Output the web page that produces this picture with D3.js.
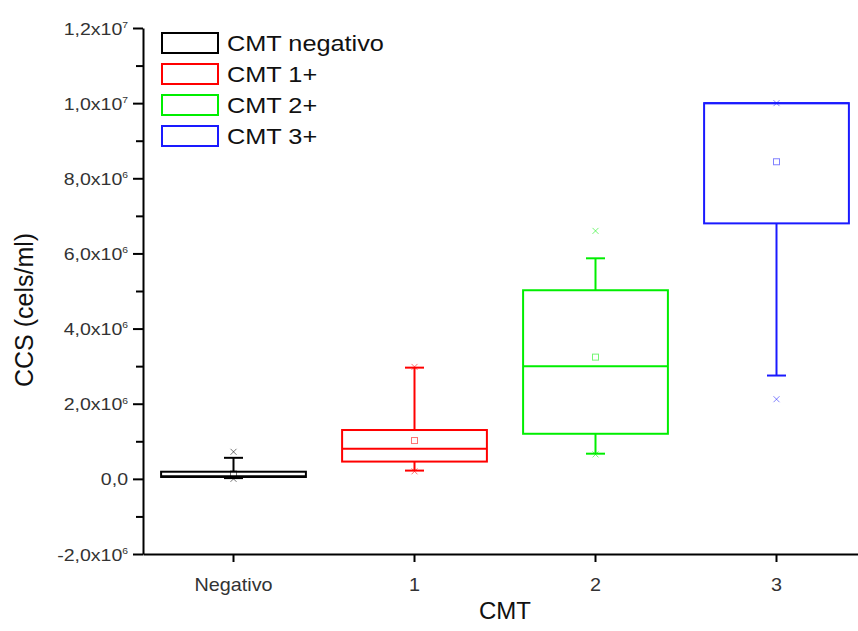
<!DOCTYPE html>
<html>
<head>
<meta charset="utf-8">
<script src="https://cdn.jsdelivr.net/npm/d3@7"></script>
<style>
body { margin: 0; background: #fff; }
text { font-family: "Liberation Sans", Arial, sans-serif; }
</style>
</head>
<body>
<div id="chart"></div>
<script>
// categories and series
const categories = ["Negativo", "1", "2", "3"];
const seriesNames = ["CMT negativo", "CMT 1+", "CMT 2+", "CMT 3+"];
const seriesColors = ["#000000", "#ff0000", "#00ee00", "#1a1aff"];

// box statistics (cels/ml)
const q1 = [0.05e6, 0.46e6, 1.20e6, 6.80e6];
const median = [0.07e6, 0.80e6, 3.00e6, 1.00e7];
const q3 = [0.19e6, 1.30e6, 5.02e6, 1.00e7];
const whiskerLow = [0.02e6, 0.22e6, 0.67e6, 2.75e6];
const whiskerHigh = [0.56e6, 2.96e6, 5.87e6, 1.00e7];
const mean = [0.13e6, 1.02e6, 3.24e6, 8.44e6];
const minVal = [0.0, 0.20e6, 0.65e6, 2.12e6];
const maxVal = [0.72e6, 2.98e6, 6.60e6, 1.00e7];

// y axis ticks
const yTicks = [-2e6, 0, 2e6, 4e6, 6e6, 8e6, 1e7, 1.2e7];
const yTickMantissa = ["-2,0", "0,0", "2,0", "4,0", "6,0", "8,0", "1,0", "1,2"];
const yTickExp = ["6", "", "6", "6", "6", "6", "7", "7"];
const yMinorTicks = [-1e6, 1e6, 3e6, 5e6, 7e6, 9e6, 1.1e7];

const width = 858, height = 631;
const margin = { left: 143, top: 28, bottom: 554 };

const svg = d3.select('#chart').append('svg')
    .attr('width', width)
    .attr('height', height);

const x = d3.scaleBand()
    .domain(categories)
    .range([margin.left, margin.left + 4 * 181])
    .paddingInner(0.2)
    .paddingOuter(0.1);

const y = d3.scaleLinear()
    .domain([-2e6, 1.2e7])
    .range([margin.bottom, margin.top]);

// y axis (minor then major)
svg.append('g')
    .attr('transform', `translate(${margin.left},0)`)
    .call(d3.axisLeft(y).tickValues(yMinorTicks).tickSize(7).tickFormat(''))
    .call(g => g.select('.domain').remove());

const yAxis = svg.append('g')
    .attr('transform', `translate(${margin.left},0)`)
    .call(d3.axisLeft(y).tickValues(yTicks).tickSize(10).tickSizeOuter(0).tickFormat(''));

yAxis.selectAll('.tick text').remove();
const yLab = yAxis.selectAll('.tick').append('text')
    .attr('text-anchor', 'end')
    .attr('transform', 'scale(1.15,1)')
    .attr('x', -15 / 1.15)
    .attr('dy', '0.36em')
    .attr('fill', '#333')
    .style('font-size', '17px');
yLab.append('tspan').text((d, i) => yTickMantissa[i] + (yTickExp[i] ? 'x10' : ''));
yLab.append('tspan')
    .attr('dy', '-0.75em')
    .style('font-size', '9px')
    .text((d, i) => yTickExp[i]);

// x axis
const xAxis = svg.append('g')
    .attr('transform', `translate(0,${margin.bottom})`)
    .call(d3.axisBottom(x).tickSize(8).tickSizeOuter(0));

xAxis.selectAll('.tick text')
    .attr('y', 37)
    .attr('dy', 0)
    .attr('transform', 'scale(1.1,1)')
    .attr('fill', '#333')
    .style('font-size', '18px');

svg.selectAll('.domain, .tick line')
    .attr('stroke', '#000')
    .attr('stroke-width', 2);

// boxes
const bw = x.bandwidth();
const capW = 19;
const boxes = svg.append('g').selectAll('g')
    .data(categories)
    .enter().append('g')
    .attr('stroke', (d, i) => seriesColors[i])
    .attr('fill', 'none');

boxes.each(function (cat, i) {
    const g = d3.select(this);
    const cx = x(cat) + bw / 2;

    if (whiskerHigh[i] > q3[i]) {
        g.append('line').attr('x1', cx).attr('x2', cx)
            .attr('y1', y(q3[i])).attr('y2', y(whiskerHigh[i])).attr('stroke-width', 2);
        g.append('line').attr('x1', cx - capW / 2).attr('x2', cx + capW / 2)
            .attr('y1', y(whiskerHigh[i])).attr('y2', y(whiskerHigh[i])).attr('stroke-width', 2);
    }
    if (whiskerLow[i] < q1[i]) {
        g.append('line').attr('x1', cx).attr('x2', cx)
            .attr('y1', y(q1[i])).attr('y2', y(whiskerLow[i])).attr('stroke-width', 2);
        g.append('line').attr('x1', cx - capW / 2).attr('x2', cx + capW / 2)
            .attr('y1', y(whiskerLow[i])).attr('y2', y(whiskerLow[i])).attr('stroke-width', 2);
    }

    g.append('rect')
        .attr('x', x(cat))
        .attr('width', bw)
        .attr('y', y(q3[i]))
        .attr('height', y(q1[i]) - y(q3[i]))
        .attr('fill', '#fff')
        .attr('stroke-width', 2);

    g.append('line').attr('x1', x(cat)).attr('x2', x(cat) + bw)
        .attr('y1', y(median[i])).attr('y2', y(median[i])).attr('stroke-width', 2);

    g.append('rect')
        .attr('x', cx - 3).attr('y', y(mean[i]) - 3)
        .attr('width', 6).attr('height', 6)
        .attr('stroke-width', 1)
        .attr('stroke-opacity', 0.55);

    [minVal[i], maxVal[i]].forEach(v => {
        const py = y(v);
        g.append('path')
            .attr('d', `M${cx - 3},${py - 3}L${cx + 3},${py + 3}M${cx + 3},${py - 3}L${cx - 3},${py + 3}`)
            .attr('stroke-width', 1)
            .attr('stroke-opacity', 0.55);
    });
});

// legend
const legend = svg.append('g').selectAll('g')
    .data(seriesNames)
    .enter().append('g')
    .attr('transform', (d, i) => `translate(162,${43 + i * 31})`);

legend.append('rect')
    .attr('x', 0).attr('y', -10)
    .attr('width', 56).attr('height', 20)
    .attr('fill', 'none')
    .attr('stroke', (d, i) => seriesColors[i])
    .attr('stroke-width', 2);

legend.append('text')
    .attr('transform', 'translate(65,8) scale(1.15,1)')
    .attr('fill', '#111')
    .style('font-size', '22px')
    .text(d => d);

// axis titles
svg.append('text')
    .attr('transform', 'translate(33,310) rotate(-90)')
    .attr('text-anchor', 'middle')
    .attr('fill', '#111')
    .style('font-size', '25px')
    .text('CCS (cels/ml)');

svg.append('text')
    .attr('x', 505)
    .attr('y', 619)
    .attr('text-anchor', 'middle')
    .attr('fill', '#111')
    .style('font-size', '24px')
    .text('CMT');
</script>
</body>
</html>
